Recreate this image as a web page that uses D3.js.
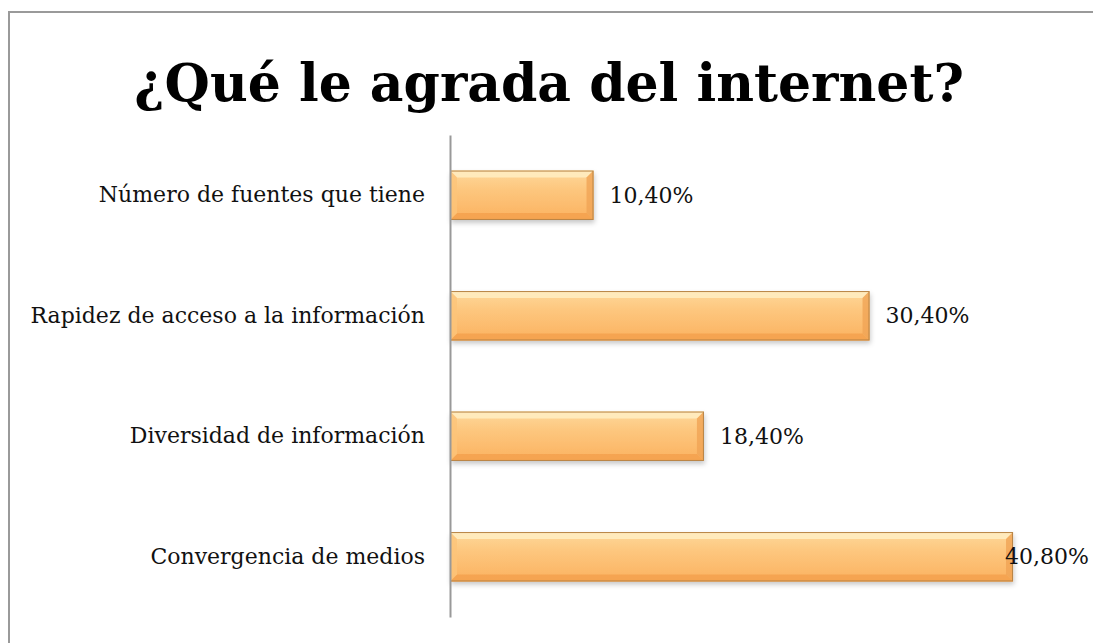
<!DOCTYPE html>
<html>
<head>
<meta charset="utf-8">
<script src="https://cdn.jsdelivr.net/npm/d3@7"></script>
<style>
  body { margin: 0; background: #fff; overflow: hidden; }
  svg { display: block; }
</style>
</head>
<body>
<svg id="chart"></svg>
<script>
// datos del grafico
var categorias = ["Número de fuentes que tiene", "Rapidez de acceso a la información", "Diversidad de información", "Convergencia de medios"];
var valores = [10.4, 30.4, 18.4, 40.8];
var etiquetas = ["10,40%", "30,40%", "18,40%", "40,80%"];
var titulo = "¿Qué le agrada del internet?";

var width = 1093, height = 643;
var svg = d3.select("#chart").attr("width", width).attr("height", height);

var defs = svg.append("defs");
var grad = defs.append("linearGradient").attr("id", "barra").attr("x1", 0).attr("y1", 0).attr("x2", 0).attr("y2", 1);
grad.append("stop").attr("offset", "0%").attr("stop-color", "#fed89a");
grad.append("stop").attr("offset", "40%").attr("stop-color", "#fdc67d");
grad.append("stop").attr("offset", "100%").attr("stop-color", "#fbb260");
var sh = defs.append("filter").attr("id", "sombra").attr("x", "-5%").attr("y", "-20%").attr("width", "115%").attr("height", "160%");
sh.append("feDropShadow").attr("dx", 1).attr("dy", 3).attr("stdDeviation", 2.5).attr("flood-color", "#000").attr("flood-opacity", 0.22);

// marco (solo borde superior e izquierdo visibles)
svg.append("path").attr("d", "M9," + (height + 5) + "V12H" + (width + 5))
  .attr("fill", "none").attr("stroke", "#9a9a9a").attr("stroke-width", 2);

svg.append("text").attr("x", 549).attr("y", 101).attr("text-anchor", "middle")
  .attr("font-family", "DejaVu Serif").attr("font-weight", "bold").attr("font-size", 52)
  .text(titulo);

var x = d3.scaleLinear().domain([0, 45]).range([450, 1071]);
var y = d3.scaleBand().domain(categorias).range([135, 617]).paddingInner(0.59).paddingOuter(0.295);
var b = 7; // bisel

var barras = svg.append("g").selectAll("g").data(valores).enter().append("g")
  .attr("transform", function(d, i) { return "translate(" + x(0) + "," + y(categorias[i]) + ")"; });

barras.append("rect")
  .attr("width", function(d) { return x(d) - x(0); })
  .attr("height", y.bandwidth())
  .attr("fill", "url(#barra)")
  .attr("filter", "url(#sombra)");

function bisel(lado, w, h) {
  if (lado === "top") return [[0, 0], [w, 0], [w - b, b], [b, b]];
  if (lado === "bottom") return [[0, h], [w, h], [w - b, h - b], [b, h - b]];
  if (lado === "left") return [[0, 0], [b, b], [b, h - b], [0, h]];
  return [[w, 0], [w - b, b], [w - b, h - b], [w, h]];
}
var biseles = [["top", "#ffecc0", 0.9], ["bottom", "#f4a04c", 0.8], ["left", "#fcc479", 0.8], ["right", "#f0a455", 0.8]];
biseles.forEach(function(s) {
  barras.append("polygon")
    .attr("points", function(d) { return bisel(s[0], x(d) - x(0), y.bandwidth()).join(" "); })
    .attr("fill", s[1]).attr("opacity", s[2]);
});
barras.append("rect")
  .attr("x", 0.5).attr("y", 0.5)
  .attr("width", function(d) { return x(d) - x(0) - 1; })
  .attr("height", y.bandwidth() - 1)
  .attr("fill", "none").attr("stroke", "#b88446").attr("stroke-width", 1);

var yAxis = d3.axisLeft(y).tickSize(0).tickPadding(25);
var ax = svg.append("g").attr("transform", "translate(" + x(0) + ",0)").call(yAxis);
ax.select(".domain").attr("stroke", "#999").attr("stroke-width", 2);
ax.selectAll("text").attr("font-family", "DejaVu Serif").attr("font-size", 22).attr("fill", "#111");

svg.append("g").selectAll("text").data(valores).enter().append("text")
  .attr("x", function(d, i) { return i === 3 ? x(d) - 8 : x(d) + 16; })
  .attr("y", function(d, i) { return y(categorias[i]) + y.bandwidth() / 2; })
  .attr("dy", "0.35em")
  .attr("font-family", "DejaVu Serif").attr("font-size", 22).attr("fill", "#111")
  .text(function(d, i) { return etiquetas[i]; });
</script>
</body>
</html>
